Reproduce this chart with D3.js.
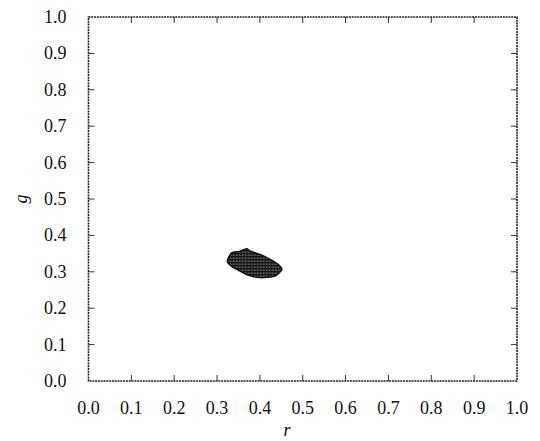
<!DOCTYPE html>
<html>
<head>
<meta charset="utf-8">
<script src="https://cdn.jsdelivr.net/npm/d3@7"></script>
</head>
<body style="margin:0">
<svg id="chart" width="540" height="441"></svg>
<script>
const width = 540, height = 441;
const margin = { top: 17, right: 23, bottom: 60, left: 88.5 };
const innerWidth = width - margin.left - margin.right;
const innerHeight = height - margin.top - margin.bottom;
const FONT = '"Liberation Serif", "Times New Roman", Tinos, serif';

// tick values for both axes
const xTicks = [0, 0.1, 0.2, 0.3, 0.4, 0.5, 0.6, 0.7, 0.8, 0.9, 1.0];
const yTicks = [0, 0.1, 0.2, 0.3, 0.4, 0.5, 0.6, 0.7, 0.8, 0.9, 1.0];

// outline of the region (r, g)
const regionR = [0.324, 0.334, 0.352, 0.369, 0.377, 0.400, 0.424, 0.445, 0.451, 0.435, 0.400, 0.370, 0.354, 0.335];
const regionG = [0.329, 0.352, 0.356, 0.363, 0.357, 0.348, 0.334, 0.318, 0.306, 0.288, 0.284, 0.292, 0.302, 0.314];

const svg = d3.select('#chart');

const pat = svg.append('defs').append('pattern')
    .attr('id', 'hatch')
    .attr('width', 3).attr('height', 3)
    .attr('patternUnits', 'userSpaceOnUse');
pat.append('rect').attr('width', 3).attr('height', 3).attr('fill', '#151515');
pat.append('rect').attr('x', 0.6).attr('y', 0.6).attr('width', 1.1).attr('height', 1.1).attr('fill', '#cfcfcf');

const g = svg.append('g').attr('transform', `translate(${margin.left},${margin.top})`);

const x = d3.scaleLinear().domain([0, 1]).range([0, innerWidth]);
const y = d3.scaleLinear().domain([0, 1]).range([innerHeight, 0]);
const fmt = d3.format('.1f');
const tickLen = 6;

// region
const pts = regionR.map((r, i) => [r, regionG[i]]);
const line = d3.line().x(d => x(d[0])).y(d => y(d[1])).curve(d3.curveCardinalClosed.tension(0.3));
g.append('path')
    .attr('d', line(pts))
    .attr('fill', 'url(#hatch)')
    .attr('stroke', '#111')
    .attr('stroke-width', 1.5);

// inward ticks on all four sides
const inner = xTicks.slice(1, -1);
g.selectAll('.xt').data(inner).join('line')
    .attr('x1', d => x(d)).attr('x2', d => x(d))
    .attr('y1', innerHeight).attr('y2', innerHeight - tickLen)
    .attr('stroke', '#333');
g.selectAll('.xtt').data(inner).join('line')
    .attr('x1', d => x(d)).attr('x2', d => x(d))
    .attr('y1', 0).attr('y2', tickLen)
    .attr('stroke', '#333');
const innerY = yTicks.slice(1, -1);
g.selectAll('.yt').data(innerY).join('line')
    .attr('y1', d => y(d)).attr('y2', d => y(d))
    .attr('x1', 0).attr('x2', tickLen)
    .attr('stroke', '#333');
g.selectAll('.ytr').data(innerY).join('line')
    .attr('y1', d => y(d)).attr('y2', d => y(d))
    .attr('x1', innerWidth).attr('x2', innerWidth - tickLen)
    .attr('stroke', '#333');

// tick labels
g.selectAll('.xl').data(xTicks).join('text')
    .attr('x', d => x(d)).attr('y', innerHeight + 33)
    .attr('text-anchor', 'middle')
    .style('font-family', FONT).style('font-size', '18px')
    .attr('fill', '#111')
    .text(fmt);
g.selectAll('.yl').data(yTicks).join('text')
    .attr('x', -22).attr('y', d => y(d) + 6)
    .attr('text-anchor', 'end')
    .style('font-family', FONT).style('font-size', '18px')
    .attr('fill', '#111')
    .text(fmt);

// frame
g.append('rect')
    .attr('width', innerWidth).attr('height', innerHeight)
    .attr('fill', 'none')
    .attr('stroke', '#222')
    .attr('stroke-width', 1.6)
    .attr('stroke-dasharray', '2,0.8');

// axis labels
svg.append('text')
    .attr('x', 287).attr('y', 436)
    .attr('text-anchor', 'middle')
    .style('font-family', FONT).style('font-size', '18px').style('font-style', 'italic')
    .attr('fill', '#111')
    .text('r');

svg.append('text')
    .attr('transform', 'translate(27,199) rotate(-90)')
    .attr('text-anchor', 'middle')
    .style('font-family', FONT).style('font-size', '18px').style('font-style', 'italic')
    .attr('fill', '#111')
    .text('g');
</script>
</body>
</html>
